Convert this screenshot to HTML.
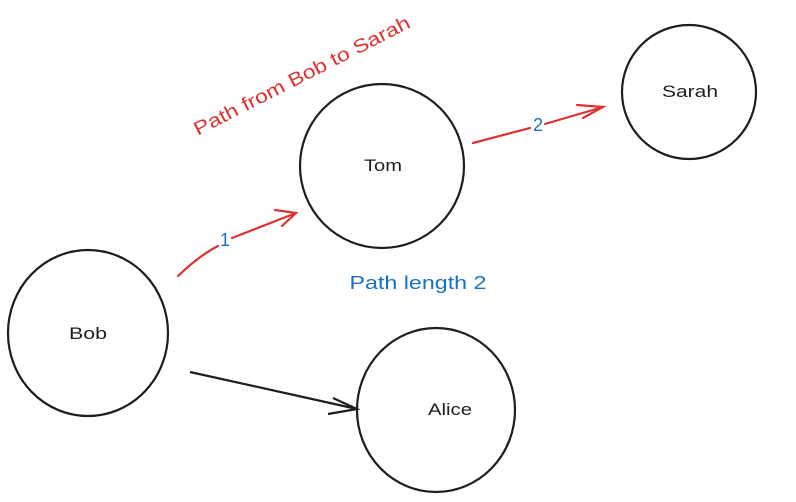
<!DOCTYPE html>
<html><head><style>
html,body{margin:0;padding:0;background:#fff;}
svg{display:block;}
text{font-family:"Liberation Sans",sans-serif;}
</style></head><body>
<svg width="796" height="502" viewBox="0 0 796 502">
<g fill="none" stroke="#1e1e1e" stroke-width="2.2">
<ellipse cx="88" cy="333" rx="80" ry="83"/>
<ellipse cx="382" cy="166" rx="82" ry="82"/>
<ellipse cx="689" cy="92" rx="67" ry="67"/>
<ellipse cx="436" cy="410" rx="79" ry="82"/>
<path d="M190 372 L357 409"/>
<path d="M333 398 L357 409 L328 414"/>
</g>
<g fill="none" stroke="#e03131" stroke-width="2.2" stroke-linecap="round">
<path d="M178 276 Q200 255 218 246"/>
<path d="M232 238 L296 213"/>
<path d="M275 210 L296 213 L282 226"/>
<path d="M473 143 L530 128"/>
<path d="M545 124 L603 107"/>
<path d="M577 105 L603 107 L583 118"/>
</g>
<g fill="#1e1e1e" font-size="17" text-anchor="middle">
<text x="88" y="339" textLength="38" lengthAdjust="spacingAndGlyphs">Bob</text>
<text x="383" y="171" textLength="38" lengthAdjust="spacingAndGlyphs">Tom</text>
<text x="690" y="97" textLength="56" lengthAdjust="spacingAndGlyphs">Sarah</text>
<text x="450" y="415" textLength="44" lengthAdjust="spacingAndGlyphs">Alice</text>
</g>
<g fill="#1971c2" font-size="18" text-anchor="middle">
<text x="225" y="246">1</text>
<text x="538" y="131">2</text>
<text x="418" y="289" textLength="137" lengthAdjust="spacingAndGlyphs">Path length 2</text>
</g>
<text x="302" y="82" fill="#e03131" font-size="19" text-anchor="middle" textLength="240" lengthAdjust="spacingAndGlyphs" transform="rotate(-27 302 76)">Path from Bob to Sarah</text>
</svg>
</body></html>
